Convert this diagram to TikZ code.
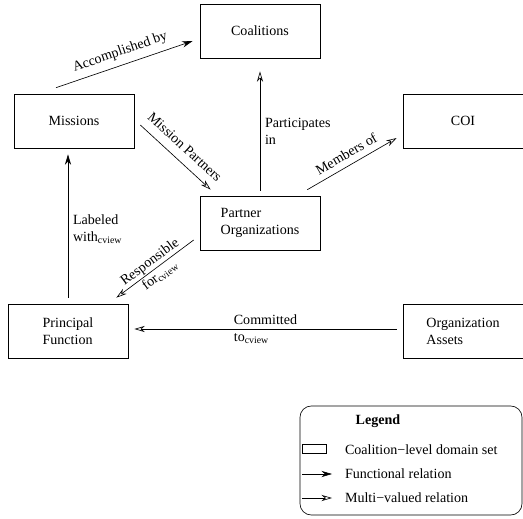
\documentclass[tikz,border=0pt]{standalone}
\usepackage{fontspec}
\setmainfont{Liberation Serif}
\usepackage{tikz}
\usetikzlibrary{arrows.meta,calc}

\tikzstyle{domset} = [draw, minimum width=3cm, minimum height=1.35cm, inner sep=2pt, align=left]
\tikzstyle{func} = [-{Stealth[length=7.5pt,width=4.4pt]}]
\tikzstyle{multi} = [-{Stealth[open,length=7.5pt,width=4.4pt]}]

\begin{document}
\begin{tikzpicture}[line width=0.45pt]

\useasboundingbox (0,0) rectangle (13.075,12.95);

% domain sets
\node[domset] (coal) at (6.5, 12.175) {Coalitions};
\node[domset] (mis) at (1.85, 9.925) {Missions};
\node[domset] (coi) at (11.575, 9.925) {COI};
\node[domset] (part) at (6.5, 7.375) {Partner\\Organizations};
\node[domset] (prin) at (1.7, 4.675) {Principal\\Function};
\node[domset] (assets) at (11.575, 4.675) {Organization\\Assets};

% relations
\draw[func] ($(mis.north)+(-0.45,0.15)$) -- node[midway,above=1pt,sloped] {Accomplished by} ($(coal.west)+(-0.175,-0.25)$);
\draw[multi] ($(mis.east)+(0.15,-0.1)$) -- node[midway,above=3pt,sloped] {Mission Partners} ($(part.north west)+(0.275,0.15)$);
\draw[multi] ($(part.north)+(0,0.125)$) -- node[midway,right,align=left] {Participates\\in} ($(coal.south)+(0,-0.325)$);
\draw[multi] ($(part.north east)+(-0.325,0.15)$) -- node[midway,above=1pt,sloped] {Members of} ($(coi.west)+(-0.15,-0.425)$);
\draw[func] ($(prin.north)+(0,0.15)$) -- node[midway,right,align=left,yshift=-2pt] {Labeled\\with\textsubscript{cview}} ($(prin.north |- mis.south)+(0,-0.15)$);
\draw[multi] ($(part.west)+(-0.15,-0.425)$) -- node[midway,sloped,align=center] {Responsible\\for\textsubscript{cview}} ($(prin.north east)+(-0.3,0.15)$);
\draw[multi] ($(assets.west)+(-0.15,0.05)$) -- node[midway,align=left] {Committed\\to\textsubscript{cview}} ($(prin.east)+(0.15,0.05)$);

% legend
\node[draw,rounded corners=8pt,minimum width=5.55cm,minimum height=2.725cm] (legend) at (10.275,1.4375) {};
\node[font=\bfseries] (legtitle) at (9.45,2.425) {Legend};
\node[draw,minimum width=0.6cm,minimum height=0.225cm,inner sep=0pt] (legbox) at (7.85,1.7375) {};
\node[right] (legset) at (8.5,1.7) {Coalition−level domain set};
\coordinate (fa) at (7.55,1.1);
\coordinate (fb) at (8.3,1.1);
\node[right] (legfunc) at (8.5,1.1) {Functional relation};
\coordinate (ma) at (7.55,0.5);
\coordinate (mb) at (8.3,0.5);
\node[right] (legmulti) at (8.5,0.5) {Multi−valued relation};
\draw[func] (fa) -- (fb);
\draw[multi] (ma) -- (mb);

\end{tikzpicture}
\end{document}
